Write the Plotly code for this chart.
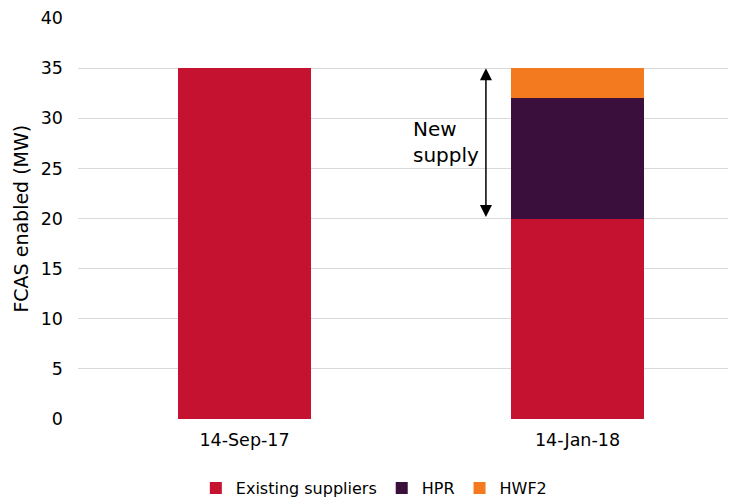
import plotly.graph_objects as go

categories = ["14-Sep-17", "14-Jan-18"]
existing = [35, 20]
hpr = [0, 12]
hwf2 = [0, 3]
y_ticks = [0, 5, 10, 15, 20, 25, 30, 35, 40]

FONT = "DejaVu Sans"
fig = go.Figure()
for name, vals, col in [("Existing suppliers", existing, "#C41230"),
                        ("HPR", hpr, "#3A0F3B"),
                        ("HWF2", hwf2, "#F47A20")]:
    fig.add_trace(go.Bar(x=[0, 1], y=vals, name=name, marker=dict(color=col, line=dict(width=0)),
                         width=0.4))

# double arrow for new supply
fig.add_annotation(x=0.725, y=35, ax=0.725, ay=20, xref="x", yref="y", axref="x", ayref="y",
                   text="", showarrow=True, arrowhead=2, startarrowhead=2, arrowside="end+start",
                   arrowsize=1.6, startarrowsize=1.6, arrowwidth=1.5, arrowcolor="black")
fig.add_annotation(x=0.499, y=27.6, xref="x", yref="y", text="New<br>supply", showarrow=False,
                   xanchor="left", align="left", font=dict(family=FONT, size=20, color="black"))

# y-axis title
fig.add_annotation(x=-0.088, y=0.5, xref="paper", yref="paper", text="FCAS enabled (MW)",
                   textangle=-90, showarrow=False, xanchor="center", yanchor="middle",
                   font=dict(family=FONT, size=19, color="black"))

fig.update_layout(
    barmode="stack", width=728, height=490,
    margin=dict(l=70, r=0, t=10, b=79, autoexpand=False),
    plot_bgcolor="white", paper_bgcolor="white",
    font=dict(family=FONT, size=17, color="black"),
    showlegend=True,
    legend=dict(orientation="h", x=0.258, xref="container", xanchor="left",
                y=0.02, yref="container", yanchor="middle",
                font=dict(family=FONT, size=16), traceorder="normal"),
    xaxis=dict(range=[-0.5, 1.476], tickvals=[0, 1], ticktext=categories, showgrid=False,
               zeroline=False, showline=False, ticks="", tickfont=dict(size=17.5), automargin=False,
               ticklabelstandoff=8),
    yaxis=dict(range=[0, 40], tickvals=y_ticks, showgrid=True, gridcolor="#D9D9D9", gridwidth=1,
               zeroline=False, showline=False, ticks="", tickfont=dict(size=17.5), automargin=False,
               ticklabelstandoff=14),
)
fig.write_html("out.html")
